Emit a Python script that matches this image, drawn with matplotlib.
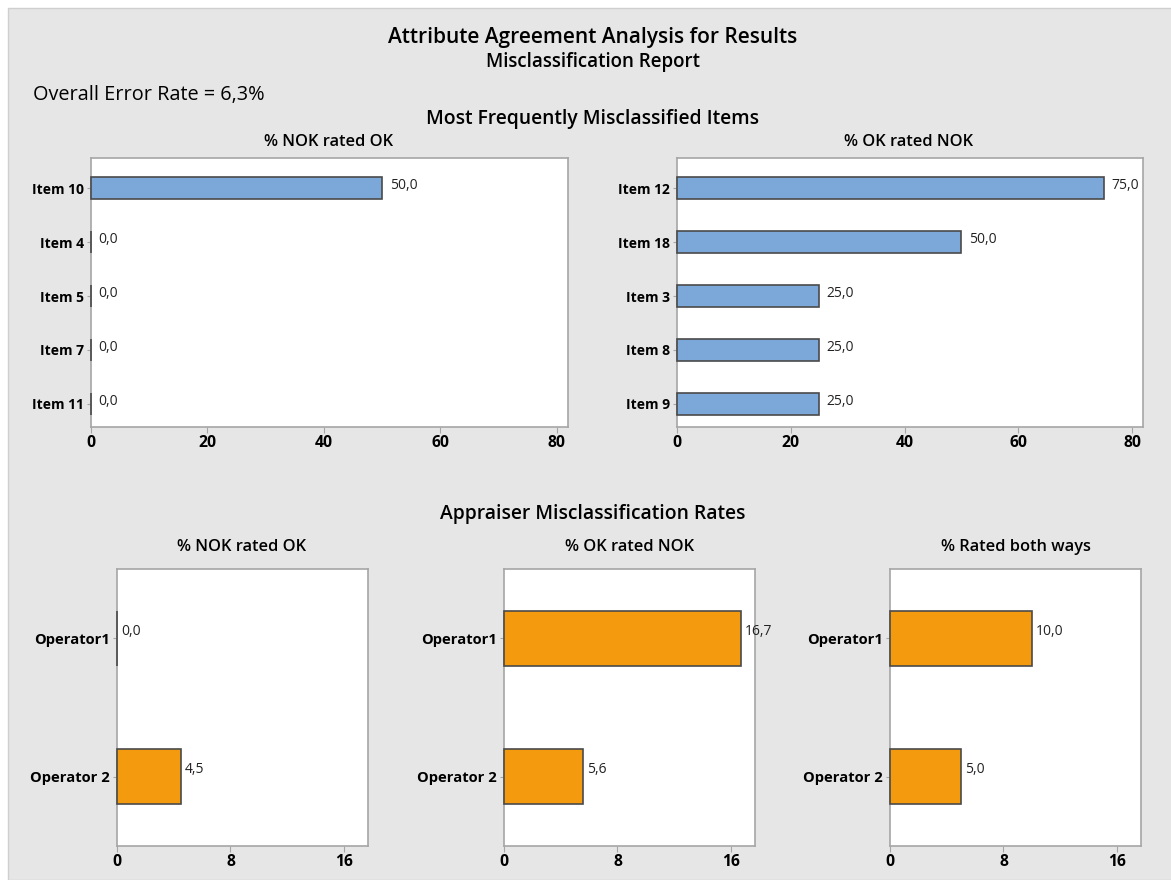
import matplotlib
matplotlib.use("Agg")
import matplotlib.pyplot as plt
from matplotlib.patches import Rectangle

plt.rcParams['font.family'] = ['Open Sans', 'DejaVu Sans']

# --------------DATA--------------
items_nok_ok = ['Item 10', 'Item 4', 'Item 5', 'Item 7', 'Item 11']
vals_nok_ok = [50.0, 0.0, 0.0, 0.0, 0.0]

items_ok_nok = ['Item 12', 'Item 18', 'Item 3', 'Item 8', 'Item 9']
vals_ok_nok = [75.0, 50.0, 25.0, 25.0, 25.0]

operators = ['Operator1', 'Operator 2']
op_nok_ok = [0.0, 4.5]
op_ok_nok = [16.7, 5.6]
op_both = [10.0, 5.0]

W, H = 1171, 880
BG = '#e6e6e6'
BLUE = '#7ba7d9'
ORANGE = '#f39a0e'
EDGE = '#4a4a4a'
SPINE = '#a6a6a6'


def px_axes(fig, x0, x1, y0, y1):
    # pixel box -> figure fraction
    return fig.add_axes([x0 / W, 1 - y1 / H, (x1 - x0) / W, (y1 - y0) / H])


def fmt(v):
    return f"{v:.1f}".replace('.', ',')


def barh_panel(ax, labels, vals, color, xmax, ticks, ylim, lab_off, ylab_size):
    pos = list(range(len(labels)))
    ax.barh(pos, vals, height=0.4, color=color, edgecolor=EDGE, linewidth=1.2,
            zorder=3, clip_on=False)
    for p, v in zip(pos, vals):
        ax.text(v + lab_off, p - 0.05, fmt(v), va='center', ha='left',
                fontsize=10, color='#222222')
    ax.set_yticks(pos)
    ax.set_yticklabels(labels, fontweight='bold', fontsize=ylab_size)
    ax.set_xticks(ticks)
    ax.set_xticklabels([str(t) for t in ticks], fontweight='bold', fontsize=11.3)
    ax.set_xlim(0, xmax)
    ax.set_ylim(*ylim)
    ax.set_facecolor('white')
    for s in ax.spines.values():
        s.set_color(SPINE)
        s.set_linewidth(1.2)
    ax.tick_params(axis='y', length=3, color=SPINE, pad=2)
    ax.tick_params(axis='x', length=4, color=SPINE, pad=2)


fig = plt.figure(figsize=(W / 100, H / 100), dpi=100, facecolor='white')
fig.patches.append(Rectangle((8 / W, 0), 1, 1 - 8 / H, transform=fig.transFigure,
                             facecolor=BG, edgecolor='#cfcfcf', linewidth=1, zorder=-1))

fig.text(593 / W, 1 - 38 / H, 'Attribute Agreement Analysis for Results',
         ha='center', va='center', fontsize=15, fontweight='semibold')
fig.text(593 / W, 1 - 62 / H, 'Misclassification Report',
         ha='center', va='center', fontsize=13.5, fontweight='semibold')
fig.text(33 / W, 1 - 95 / H, 'Overall Error Rate = 6,3%',
         ha='left', va='center', fontsize=14.3)
fig.text(593 / W, 1 - 119 / H, 'Most Frequently Misclassified Items',
         ha='center', va='center', fontsize=13.9, fontweight='semibold')
fig.text(593 / W, 1 - 514 / H, 'Appraiser Misclassification Rates',
         ha='center', va='center', fontsize=13.9, fontweight='semibold')

# top row
ax1 = px_axes(fig, 91, 568, 158, 427)
barh_panel(ax1, items_nok_ok, vals_nok_ok, BLUE, 81.9, [0, 20, 40, 60, 80],
           (4.43, -0.56), 1.3, 10)
ax2 = px_axes(fig, 677, 1143, 158, 427)
barh_panel(ax2, items_ok_nok, vals_ok_nok, BLUE, 81.9, [0, 20, 40, 60, 80],
           (4.43, -0.56), 1.3, 10)
fig.text(329 / W, 1 - 142 / H, '% NOK rated OK', ha='center', va='center',
         fontsize=11.8, fontweight='semibold')
fig.text(909 / W, 1 - 142 / H, '% OK rated NOK', ha='center', va='center',
         fontsize=11.8, fontweight='semibold')

# bottom row
bottom = [
    (117, 368, op_nok_ok, '% NOK rated OK', 242),
    (504, 755, op_ok_nok, '% OK rated NOK', 630),
    (890, 1141, op_both, '% Rated both ways', 1016),
]
for x0, x1, vals, title, cx in bottom:
    ax = px_axes(fig, x0, x1, 569, 846)
    barh_panel(ax, operators, vals, ORANGE, 17.7, [0, 8, 16], (1.5, -0.5), 0.28, 10.6)
    fig.text(cx / W, 1 - 547 / H, title, ha='center', va='center',
             fontsize=11.8, fontweight='semibold')

fig.savefig('out.png', dpi=100, facecolor=fig.get_facecolor())
